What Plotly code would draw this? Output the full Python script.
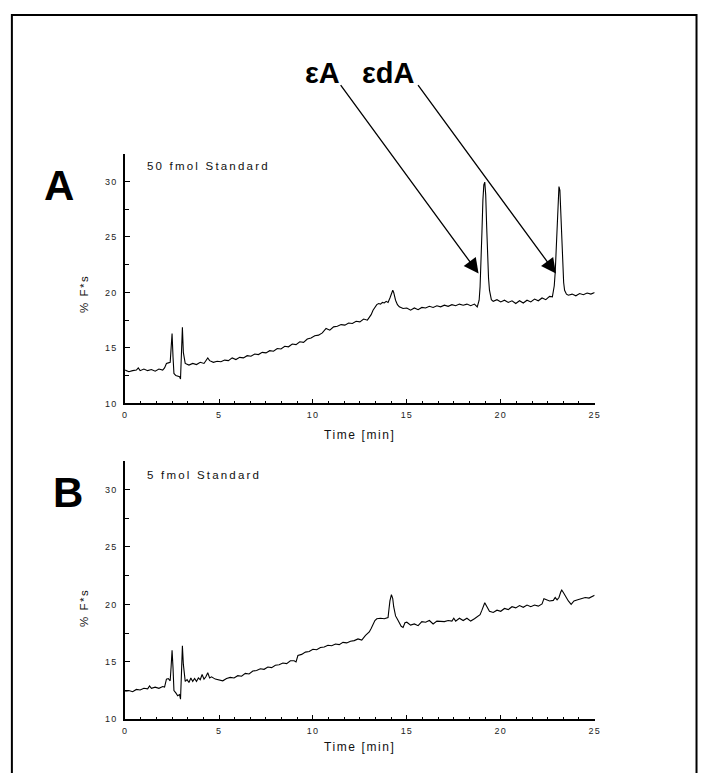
import plotly.graph_objects as go

# ---------------- data ----------------
time_A = [0.0, 0.2, 0.4, 0.6, 0.7, 0.8, 1.0, 1.2, 1.4, 1.6,
          1.8, 2.0, 2.1, 2.2, 2.3, 2.4, 2.45, 2.5, 2.55, 2.6,
          2.7, 2.8, 2.9, 2.95, 3.0, 3.05, 3.1, 3.2, 3.4, 3.6,
          3.8, 4.0, 4.2, 4.4, 4.5, 4.7, 4.9, 5.1, 5.3, 5.5,
          5.7, 5.9, 6.1, 6.3, 6.5, 6.7, 6.9, 7.1, 7.3, 7.5,
          7.7, 7.9, 8.1, 8.3, 8.5, 8.7, 8.9, 9.1, 9.3, 9.5,
          9.7, 9.9, 10.1, 10.3, 10.5, 10.7, 10.9, 11.1, 11.3, 11.5,
          11.7, 11.9, 12.1, 12.3, 12.5, 12.7, 12.9, 13.0, 13.1, 13.2,
          13.3, 13.4, 13.5, 13.6, 13.7, 13.8, 13.9, 14.0, 14.1, 14.2,
          14.25, 14.3, 14.4, 14.5, 14.6, 14.8, 15.0, 15.2, 15.4, 15.6,
          15.8, 16.0, 16.2, 16.4, 16.6, 16.8, 17.0, 17.2, 17.4, 17.6,
          17.8, 18.0, 18.2, 18.4, 18.6, 18.75, 18.85, 18.9, 18.95, 19.0,
          19.05, 19.1, 19.15, 19.2, 19.25, 19.3, 19.35, 19.4, 19.45, 19.5,
          19.6, 19.8, 20.0, 20.2, 20.4, 20.6, 20.8, 21.0, 21.2, 21.4,
          21.6, 21.8, 22.0, 22.2, 22.4, 22.6, 22.75, 22.85, 22.9, 22.95,
          23.0, 23.05, 23.1, 23.15, 23.2, 23.25, 23.3, 23.35, 23.4, 23.5,
          23.6, 23.8, 24.0, 24.2, 24.4, 24.6, 24.8, 25.0]
signal_A = [13.0, 12.85, 12.95, 13.0, 13.2, 12.95, 13.1, 12.95, 13.05, 12.9,
            13.1, 13.0, 13.2, 13.6, 13.65, 13.7, 15.0, 16.3, 14.2, 12.7,
            12.5, 12.45, 12.4, 12.2, 14.5, 16.85, 14.6, 13.6, 13.45, 13.6,
            13.5, 13.7, 13.6, 14.1, 13.85, 13.7, 13.8, 13.75, 13.9, 13.85,
            14.1, 13.95, 14.15, 14.1, 14.3, 14.25, 14.45, 14.4, 14.6, 14.55,
            14.75, 14.7, 14.95, 14.9, 15.15, 15.1, 15.35, 15.3, 15.55, 15.5,
            15.8, 15.9, 16.1, 16.15, 16.35, 16.75, 16.6, 16.9, 16.95, 17.1,
            17.05, 17.25, 17.2, 17.4, 17.35, 17.6, 17.5, 17.75, 18.0, 18.4,
            18.7, 18.9, 19.0, 18.95, 19.1, 19.05, 19.2, 19.1, 19.5, 20.1,
            20.2, 20.0, 19.3, 18.9, 18.7, 18.55, 18.6, 18.4, 18.6, 18.45,
            18.65, 18.6, 18.75, 18.65, 18.8, 18.7, 18.85, 18.75, 18.9, 18.8,
            18.95, 18.85, 18.95, 18.8, 18.95, 18.7, 19.3, 20.5, 22.5, 25.5,
            28.3, 29.7, 29.95, 28.8, 26.0, 23.2, 21.3, 20.2, 19.6, 19.35,
            19.2, 19.35, 19.15, 19.3, 19.1, 19.25, 19.0, 19.25, 19.05, 19.3,
            19.15, 19.4, 19.25, 19.5, 19.35, 19.65, 19.6, 20.6, 21.8, 24.0,
            26.8, 28.8, 29.55, 29.2, 27.3, 24.6, 22.3, 20.9, 20.2, 19.85,
            19.75, 19.85, 19.7, 19.9, 19.8, 19.95, 19.85, 20.0]

time_B = [0.0, 0.2, 0.4, 0.6, 0.8, 1.0, 1.2, 1.3, 1.4, 1.6,
          1.8, 2.0, 2.1, 2.2, 2.3, 2.4, 2.45, 2.5, 2.55, 2.6,
          2.7, 2.8, 2.9, 2.95, 3.0, 3.05, 3.1, 3.2, 3.3, 3.4,
          3.5, 3.6, 3.7, 3.8, 3.9, 4.0, 4.1, 4.2, 4.3, 4.4,
          4.5, 4.6, 4.8, 5.0, 5.2, 5.4, 5.6, 5.8, 6.0, 6.2,
          6.4, 6.6, 6.8, 7.0, 7.2, 7.4, 7.6, 7.8, 8.0, 8.2,
          8.4, 8.6, 8.8, 9.0, 9.1, 9.2, 9.4, 9.6, 9.8, 10.0,
          10.2, 10.4, 10.6, 10.8, 11.0, 11.2, 11.4, 11.6, 11.8, 12.0,
          12.2, 12.4, 12.6, 12.8, 13.0, 13.1, 13.2, 13.3, 13.4, 13.6,
          13.8, 14.0, 14.05, 14.1, 14.18, 14.25, 14.3, 14.4, 14.5, 14.6,
          14.7, 14.8, 14.9, 15.0, 15.2, 15.4, 15.6, 15.8, 16.0, 16.2,
          16.4, 16.6, 16.8, 17.0, 17.2, 17.4, 17.5, 17.6, 17.8, 18.0,
          18.2, 18.4, 18.6, 18.8, 18.9, 19.0, 19.1, 19.15, 19.2, 19.3,
          19.4, 19.6, 19.8, 20.0, 20.2, 20.4, 20.6, 20.8, 21.0, 21.2,
          21.4, 21.6, 21.8, 22.0, 22.2, 22.3, 22.4, 22.6, 22.8, 22.9,
          23.0, 23.1, 23.2, 23.25, 23.35, 23.5, 23.6, 23.75, 23.9, 24.1,
          24.3, 24.5, 24.7, 24.9, 25.0]
signal_B = [12.45, 12.5, 12.4, 12.6, 12.55, 12.7, 12.65, 12.9, 12.7, 12.8,
            12.7, 12.85, 12.8, 13.5, 13.55, 13.35, 14.6, 16.0, 14.5, 12.5,
            12.3, 12.05, 12.15, 11.75, 14.0, 16.4, 14.8, 13.3, 13.45, 13.2,
            13.6, 13.3, 13.55, 13.3, 13.6, 13.45, 13.9, 13.5, 13.7, 14.05,
            13.6, 13.7, 13.5, 13.4, 13.35, 13.55, 13.65, 13.6, 13.8, 13.75,
            14.0, 13.95, 14.2, 14.25, 14.4, 14.35, 14.55, 14.5, 14.7, 14.75,
            14.9, 14.85, 15.1, 15.1, 15.0, 15.55, 15.65, 15.85, 15.9, 16.1,
            16.05, 16.25, 16.3, 16.45, 16.4, 16.55, 16.5, 16.7, 16.65, 16.8,
            16.85, 17.0, 16.9, 17.3, 17.6, 17.9, 18.3, 18.6, 18.75, 18.8,
            18.75, 18.85, 19.6, 20.3, 20.85, 20.5, 19.8, 19.0, 18.7, 18.4,
            18.1, 18.0, 18.4, 18.45, 18.2, 18.3, 18.15, 18.5, 18.45, 18.6,
            18.3, 18.55, 18.55, 18.5, 18.6, 18.55, 18.8, 18.55, 18.8, 18.6,
            18.8, 18.55, 18.75, 19.0, 19.1, 19.5, 20.0, 20.15, 20.0, 19.7,
            19.4, 19.3, 19.5, 19.4, 19.65, 19.55, 19.8, 19.7, 19.9, 19.75,
            19.95, 19.8, 19.95, 19.85, 20.05, 20.5, 20.45, 20.3, 20.35, 20.6,
            20.4, 20.6, 21.1, 21.25, 21.0, 20.5, 20.3, 20.0, 20.3, 20.4,
            20.5, 20.6, 20.55, 20.75, 20.8]

assert len(time_A) == len(signal_A), (len(time_A), len(signal_A))
assert len(time_B) == len(signal_B), (len(time_B), len(signal_B))

x_ticks = [0, 5, 10, 15, 20, 25]
y_ticks = [10, 15, 20, 25, 30]
panel_labels = ["A", "B"]
panel_texts = ["50 fmol Standard", "5 fmol Standard"]
peak_labels = ["εA", "εdA"]
peak_times = [18.82, 22.94]
peak_arrow_level = 21.7
x_title = "Time [min]"
y_title = "% F*s"

# ---------------- figure ----------------
W, H = 704, 773
FONT = "Liberation Sans, Arial, Helvetica, sans-serif"


def px_x(p):
    return p / W


def px_y(p):
    return 1 - p / H


def spaced(t, sp):
    return f'<span style="letter-spacing:{sp}px">{t}</span>'


fig = go.Figure()
fig.add_trace(go.Scatter(x=time_A, y=signal_A, mode="lines",
                         line=dict(color="black", width=1.1),
                         xaxis="x", yaxis="y", hoverinfo="skip"))
fig.add_trace(go.Scatter(x=time_B, y=signal_B, mode="lines",
                         line=dict(color="black", width=1.1),
                         xaxis="x2", yaxis="y2", hoverinfo="skip"))

x_dom = [px_x(123.7), px_x(599.3)]
yA_dom = [px_y(406), px_y(154.8)]
yB_dom = [px_y(724), px_y(463.8)]

tickfont = dict(family=FONT, size=9, color="#222")


def xaxis_def(anchor):
    return dict(domain=x_dom, range=[0, 25], anchor=anchor,
                tickmode="array", tickvals=x_ticks,
                ticktext=[spaced(str(v), 1.2) for v in x_ticks],
                ticks="inside", ticklen=5, tickwidth=1.3, tickcolor="black",
                minor=dict(tickmode="linear", tick0=0, dtick=5 / 6, ticks="inside",
                           ticklen=3, tickwidth=1.2, tickcolor="black"),
                showline=True, linewidth=1.6, linecolor="black",
                showgrid=False, zeroline=False, tickfont=tickfont,
                ticklabelstandoff=2)


def yaxis_def(anchor, dom):
    return dict(domain=dom, range=[10, 32.5], anchor=anchor,
                tickmode="array", tickvals=y_ticks,
                ticktext=[spaced(str(v), 1.2) for v in y_ticks],
                ticks="inside", ticklen=5, tickwidth=1.3, tickcolor="black",
                minor=dict(tickmode="linear", tick0=10, dtick=2.5, ticks="inside",
                           ticklen=4, tickwidth=1.2, tickcolor="black"),
                showline=True, linewidth=1.6, linecolor="black",
                showgrid=False, zeroline=False, tickfont=tickfont,
                ticklabelstandoff=4)


fig.update_layout(
    width=W, height=H, margin=dict(l=0, r=0, t=0, b=0),
    paper_bgcolor="white", plot_bgcolor="white", showlegend=False,
    xaxis=xaxis_def("y"), yaxis=yaxis_def("x", yA_dom),
    xaxis2=xaxis_def("y2"), yaxis2=yaxis_def("x2", yB_dom),
)

ann = []
# panel letters
for lab, (cx, cy) in zip(panel_labels, [(57, 187), (65.5, 495.5)]):
    ann.append(dict(text=f"<b>{lab}</b>", x=px_x(cx), y=px_y(cy), xref="paper", yref="paper",
                    xanchor="center", yanchor="middle", showarrow=False,
                    font=dict(family=FONT, size=42, color="black")))
# panel descriptions
for t, cy in zip(panel_texts, [166.7, 477.7]):
    ann.append(dict(text=spaced(t, 2.2), x=px_x(144), y=px_y(cy), xref="paper", yref="paper",
                    xanchor="left", yanchor="middle", showarrow=False,
                    font=dict(family=FONT, size=11.5, color="#111")))
# axis titles
for cy in [296, 612]:
    ann.append(dict(text=spaced(y_title, 1.5), x=px_x(82), y=px_y(cy), xref="paper", yref="paper",
                    xanchor="center", yanchor="middle", showarrow=False, textangle=-90,
                    font=dict(family=FONT, size=11.5, color="#111")))
for cy in [437.5, 752]:
    ann.append(dict(text=spaced(x_title, 1.6), x=px_x(361.5), y=px_y(cy), xref="paper", yref="paper",
                    xanchor="center", yanchor="middle", showarrow=False,
                    font=dict(family=FONT, size=12, color="#111")))
# peak labels
for lab, cx in zip(peak_labels, [324, 390]):
    ann.append(dict(text=f"<b>{lab}</b>", x=px_x(cx), y=px_y(73), xref="paper", yref="paper",
                    xanchor="center", yanchor="middle", showarrow=False,
                    font=dict(family=FONT, size=29, color="black")))
# arrows
for t in peak_times:
    ann.append(dict(text="", x=t, y=peak_arrow_level, xref="x", yref="y",
                    ax=-139, ay=-190, showarrow=True, arrowhead=2, arrowsize=2.3,
                    arrowwidth=1.3, arrowcolor="black", standoff=0))
fig.update_layout(annotations=ann)

# outer frame
fig.add_shape(type="rect", xref="paper", yref="paper",
              x0=px_x(9), x1=px_x(702.5), y0=-0.05, y1=px_y(15),
              line=dict(color="black", width=2), fillcolor="rgba(0,0,0,0)", layer="above")

fig.write_html("out.html")
